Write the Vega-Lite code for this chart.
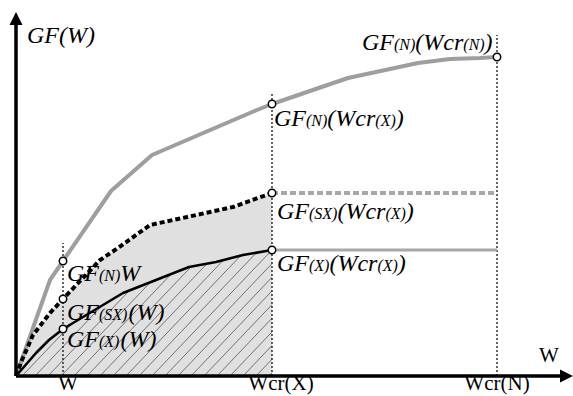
{
  "$schema": "https://vega.github.io/schema/vega-lite/v6.json",
  "width": 573,
  "height": 396,
  "padding": 0,
  "autosize": "none",
  "background": "white",
  "view": {"stroke": null},
  "datasets": {
    "curves": [
      {"s": "N", "x": 0, "y": 0}, {"s": "N", "x": 34, "y": 96}, {"s": "N", "x": 47, "y": 115}, {"s": "N", "x": 95, "y": 185}, {"s": "N", "x": 136, "y": 221}, {"s": "N", "x": 241, "y": 266}, {"s": "N", "x": 256, "y": 272}, {"s": "N", "x": 332, "y": 298}, {"s": "N", "x": 402, "y": 313}, {"s": "N", "x": 434, "y": 317}, {"s": "N", "x": 464, "y": 318}, {"s": "N", "x": 481, "y": 319},
      {"s": "SX", "x": 0, "y": 0}, {"s": "SX", "x": 6, "y": 16}, {"s": "SX", "x": 17, "y": 41}, {"s": "SX", "x": 34, "y": 63}, {"s": "SX", "x": 47, "y": 77}, {"s": "SX", "x": 84, "y": 116}, {"s": "SX", "x": 102, "y": 128}, {"s": "SX", "x": 134, "y": 151}, {"s": "SX", "x": 171, "y": 159}, {"s": "SX", "x": 217, "y": 169}, {"s": "SX", "x": 256, "y": 183},
      {"s": "X", "x": 0, "y": 0}, {"s": "X", "x": 20, "y": 23}, {"s": "X", "x": 33, "y": 36}, {"s": "X", "x": 47, "y": 47}, {"s": "X", "x": 67, "y": 59}, {"s": "X", "x": 107, "y": 83}, {"s": "X", "x": 140, "y": 96}, {"s": "X", "x": 173, "y": 109}, {"s": "X", "x": 200, "y": 114}, {"s": "X", "x": 227, "y": 121}, {"s": "X", "x": 256, "y": 126}
    ],
    "ext": [
      {"s": "SX", "x": 256, "x2": 481, "y": 183},
      {"s": "X", "x": 256, "x2": 481, "y": 126}
    ],
    "vlines": [
      {"x": 47, "y": 0, "y2": 133},
      {"x": 256, "y": 0, "y2": 283},
      {"x": 481, "y": 0, "y2": 341}
    ],
    "hatch": [
      {"x": 6, "y": 0, "x2": 55.8, "y2": 52.3},
      {"x": 19, "y": 0, "x2": 86.1, "y2": 70.5},
      {"x": 32, "y": 0, "x2": 113.5, "y2": 85.6},
      {"x": 45, "y": 0, "x2": 134.3, "y2": 93.7},
      {"x": 58, "y": 0, "x2": 155.1, "y2": 101.9},
      {"x": 71, "y": 0, "x2": 175.2, "y2": 109.4},
      {"x": 84, "y": 0, "x2": 191.0, "y2": 112.3},
      {"x": 97, "y": 0, "x2": 207.4, "y2": 115.9},
      {"x": 110, "y": 0, "x2": 224.7, "y2": 120.4},
      {"x": 123, "y": 0, "x2": 240.4, "y2": 123.3},
      {"x": 136, "y": 0, "x2": 256, "y2": 126},
      {"x": 149, "y": 0, "x2": 256, "y2": 112.4},
      {"x": 162, "y": 0, "x2": 256, "y2": 98.7},
      {"x": 175, "y": 0, "x2": 256, "y2": 85.1},
      {"x": 188, "y": 0, "x2": 256, "y2": 71.4},
      {"x": 201, "y": 0, "x2": 256, "y2": 57.8},
      {"x": 214, "y": 0, "x2": 256, "y2": 44.1},
      {"x": 227, "y": 0, "x2": 256, "y2": 30.5},
      {"x": 240, "y": 0, "x2": 256, "y2": 16.8},
      {"x": 253, "y": 0, "x2": 256, "y2": 3.2}
    ],
    "axes": [
      {"x": 0, "y": 0, "x2": 0, "y2": 352},
      {"x": 0, "y": 0, "x2": 545, "y2": 0}
    ],
    "arrowUp": [{"x": 0, "y": 357.5}],
    "arrowRight": [{"x": 550.5, "y": 0}],
    "points": [
      {"x": 47, "y": 115}, {"x": 47, "y": 77}, {"x": 47, "y": 47},
      {"x": 256, "y": 272}, {"x": 256, "y": 183}, {"x": 256, "y": 126},
      {"x": 481, "y": 319}
    ],
    "big": [
      {"t": "GF(W)", "x": 11, "y": 333},
      {"t": "GF", "x": 346, "y": 326}, {"t": "(Wcr", "x": 399.3, "y": 326}, {"t": ")", "x": 468.6, "y": 326},
      {"t": "GF", "x": 258, "y": 250}, {"t": "(Wcr", "x": 311.3, "y": 250}, {"t": ")", "x": 379.7, "y": 250},
      {"t": "GF", "x": 261, "y": 157}, {"t": "(Wcr", "x": 321.4, "y": 157}, {"t": ")", "x": 389.8, "y": 157},
      {"t": "GF", "x": 261, "y": 105}, {"t": "(Wcr", "x": 313.4, "y": 105}, {"t": ")", "x": 381.8, "y": 105},
      {"t": "GF", "x": 51, "y": 95}, {"t": "W", "x": 104.3, "y": 95},
      {"t": "GF", "x": 51, "y": 56}, {"t": "(W)", "x": 112.5, "y": 56},
      {"t": "GF", "x": 51, "y": 29}, {"t": "(W)", "x": 104.5, "y": 29}
    ],
    "small": [
      {"t": "(N)", "x": 378, "y": 326}, {"t": "(N)", "x": 447.3, "y": 326},
      {"t": "(N)", "x": 290, "y": 250}, {"t": "(X)", "x": 359.3, "y": 250},
      {"t": "(SX)", "x": 293, "y": 157}, {"t": "(X)", "x": 369.4, "y": 157},
      {"t": "(X)", "x": 293, "y": 105}, {"t": "(X)", "x": 361.4, "y": 105},
      {"t": "(N)", "x": 83, "y": 95},
      {"t": "(SX)", "x": 83, "y": 56},
      {"t": "(X)", "x": 83, "y": 29}
    ],
    "ticks": [
      {"t": "W", "x": 52, "y": -14},
      {"t": "Wcr(X)", "x": 265, "y": -14},
      {"t": "Wcr(N)", "x": 481, "y": -14},
      {"t": "W", "x": 533, "y": 14}
    ]
  },
  "encoding": {
    "x": {"field": "x", "type": "quantitative", "axis": null, "scale": {"domain": [-16, 557], "zero": false, "nice": false}},
    "y": {"field": "y", "type": "quantitative", "axis": null, "scale": {"domain": [-20, 376], "zero": false, "nice": false}}
  },
  "layer": [
    {
      "data": {"name": "curves"},
      "transform": [{"filter": "datum.s == 'SX'"}],
      "mark": {"type": "area", "color": "#e0e0e0", "opacity": 1},
      "encoding": {"y2": {"datum": 0}}
    },
    {
      "data": {"name": "hatch"},
      "mark": {"type": "rule", "color": "#555555", "strokeWidth": 0.8},
      "encoding": {"x2": {"field": "x2"}, "y2": {"field": "y2"}}
    },
    {
      "data": {"name": "vlines"},
      "mark": {"type": "rule", "color": "#000000", "strokeWidth": 1.2, "strokeDash": [2, 2]},
      "encoding": {"y2": {"field": "y2"}}
    },
    {
      "data": {"name": "ext"},
      "transform": [{"filter": "datum.s == 'SX'"}],
      "mark": {"type": "rule", "color": "#a8a8a8", "strokeWidth": 4, "strokeDash": [6, 3]},
      "encoding": {"x2": {"field": "x2"}}
    },
    {
      "data": {"name": "ext"},
      "transform": [{"filter": "datum.s == 'X'"}],
      "mark": {"type": "rule", "color": "#a8a8a8", "strokeWidth": 3},
      "encoding": {"x2": {"field": "x2"}}
    },
    {
      "data": {"name": "curves"},
      "transform": [{"filter": "datum.s == 'N'"}],
      "mark": {"type": "line", "color": "#9e9e9e", "strokeWidth": 4, "strokeJoin": "round"}
    },
    {
      "data": {"name": "curves"},
      "transform": [{"filter": "datum.s == 'SX'"}],
      "mark": {"type": "line", "color": "#000000", "strokeWidth": 4, "strokeDash": [5, 3]}
    },
    {
      "data": {"name": "curves"},
      "transform": [{"filter": "datum.s == 'X'"}],
      "mark": {"type": "line", "color": "#000000", "strokeWidth": 2.6, "strokeJoin": "round"}
    },
    {
      "data": {"name": "axes"},
      "mark": {"type": "rule", "color": "#000000", "strokeWidth": 3.5},
      "encoding": {"x2": {"field": "x2"}, "y2": {"field": "y2"}}
    },
    {
      "data": {"name": "arrowUp"},
      "mark": {"type": "point", "shape": "M0,-1L-1,1L1,1Z", "size": 169, "filled": true, "color": "#000000", "opacity": 1}
    },
    {
      "data": {"name": "arrowRight"},
      "mark": {"type": "point", "shape": "M1,0L-1,-1L-1,1Z", "size": 169, "filled": true, "color": "#000000", "opacity": 1}
    },
    {
      "data": {"name": "points"},
      "mark": {"type": "point", "shape": "circle", "size": 55, "filled": true, "fill": "#ffffff", "stroke": "#000000", "strokeWidth": 1.5, "opacity": 1}
    },
    {
      "data": {"name": "big"},
      "mark": {"type": "text", "font": "Liberation Serif", "fontStyle": "italic", "fontSize": 24, "align": "left", "baseline": "alphabetic", "color": "#000000"},
      "encoding": {"text": {"field": "t"}}
    },
    {
      "data": {"name": "small"},
      "mark": {"type": "text", "font": "Liberation Serif", "fontStyle": "italic", "fontSize": 16, "align": "left", "baseline": "alphabetic", "color": "#000000"},
      "encoding": {"text": {"field": "t"}}
    },
    {
      "data": {"name": "ticks"},
      "mark": {"type": "text", "font": "Liberation Serif", "fontSize": 21, "align": "center", "baseline": "alphabetic", "color": "#000000"},
      "encoding": {"text": {"field": "t"}}
    }
  ]
}
